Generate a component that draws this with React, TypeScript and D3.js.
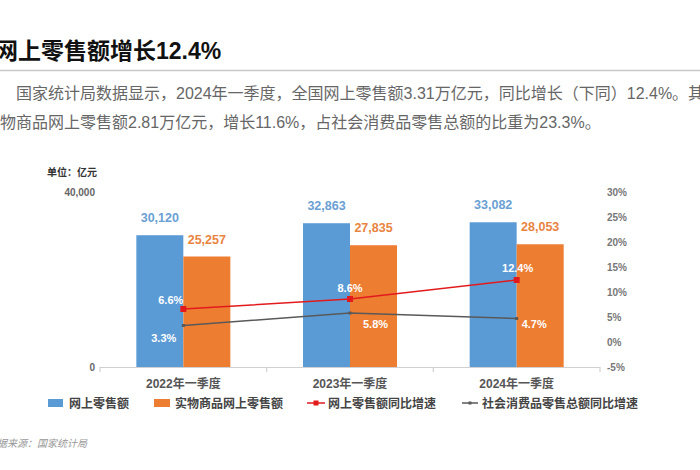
import React from "react";
import * as d3 from "d3";

const categories = ["2022年一季度", "2023年一季度", "2024年一季度"];
const onlineRetail = [30120, 32863, 33082];
const physicalOnline = [25257, 27835, 28053];
const onlineGrowth = [6.6, 8.6, 12.4];
const socialGrowth = [3.3, 5.8, 4.7];
const leftTicks = [0, 40000];
const rightTicks = [-5, 0, 5, 10, 15, 20, 25, 30];
const seriesNames = ["网上零售额", "实物商品网上零售额", "网上零售额同比增速", "社会消费品零售总额同比增速"];

const title = "网上零售额增长12.4%";
const para1 = "国家统计局数据显示，2024年一季度，全国网上零售额3.31万亿元，同比增长（下同）12.4%。其中";
const para2 = "实物商品网上零售额2.81万亿元，增长11.6%，占社会消费品零售总额的比重为23.3%。";
const source = "数据来源：国家统计局";
const unit = "单位：亿元";

const BLUE = "#5B9BD5";
const ORANGE = "#ED7D31";
const RED = "#E31A1C";
const GRAY = "#595959";
const FONT = "'Liberation Sans', Arial, 'Noto Sans CJK SC', sans-serif";

export default function App() {
  const x0 = d3.scaleBand<string>().domain(categories).range([100, 600]).padding(0);
  const x1 = d3
    .scaleBand<string>()
    .domain(["a", "b"])
    .range([0, x0.bandwidth()])
    .paddingInner(0)
    .paddingOuter(0.773);
  const yL = d3.scaleLinear().domain([0, 40000]).range([367, 192]);
  const yR = d3.scaleLinear().domain([-5, 30]).range([367, 192]);
  const fmt = d3.format(",");
  const cx = (c: string) => (x0(c) as number) + x0.bandwidth() / 2;

  const lineGen = d3
    .line<number>()
    .x((_, i) => cx(categories[i]))
    .y((d) => yR(d));

  // label placement for line value labels
  const onlineLbl = [
    { dx: 0, dy: -5, anchor: "end" },
    { dx: 0, dy: -7, anchor: "middle" },
    { dx: 1, dy: -8, anchor: "middle" },
  ];
  const socialLbl = [
    { dx: -7, dy: 16, anchor: "end" },
    { dx: 13, dy: 15, anchor: "start" },
    { dx: 5, dy: 9, anchor: "start" },
  ];

  const ticksX = [...categories.map((c) => x0(c) as number), 600];

  return (
    <svg
      width={700}
      height={470}
      style={{ position: "absolute", left: 0, top: 0, background: "#fff" }}
      fontFamily={FONT}
    >
      <rect width={700} height={470} fill="#fff" />
      {/* header */}
      <text x={-5} y={59} fontSize={23} fontWeight="bold" fill="#111">
        {title}
      </text>
      <line x1={0} x2={700} y1={70.5} y2={70.5} stroke="#c8c8c8" strokeWidth={1.5} />
      <text x={16} y={99} fontSize={16} fill="#666">
        {para1}
      </text>
      <text x={-16} y={128} fontSize={16} fill="#666">
        {para2}
      </text>

      {/* unit */}
      <text x={47} y={176} fontSize={10} fontWeight="bold" fill="#333">
        {unit}
      </text>

      {/* left axis labels */}
      {leftTicks.map((t) => (
        <text key={t} x={95} y={yL(t) + 4} fontSize={10} fontWeight="bold" fill="#666" textAnchor="end">
          {fmt(t)}
        </text>
      ))}
      {/* right axis labels */}
      {rightTicks.map((t) => (
        <text key={t} x={607} y={yR(t) + 4} fontSize={10} fontWeight="bold" fill="#777">
          {t + "%"}
        </text>
      ))}

      {/* bars */}
      {categories.map((c, i) => {
        const bx = x0(c) as number;
        const xa = bx + (x1("a") as number);
        const xb = bx + (x1("b") as number);
        const w = x1.bandwidth();
        return (
          <g key={c}>
            <rect x={xa} y={yL(onlineRetail[i])} width={w} height={yL(0) - yL(onlineRetail[i])} fill={BLUE} />
            <rect x={xb} y={yL(physicalOnline[i])} width={w} height={yL(0) - yL(physicalOnline[i])} fill={ORANGE} />
            <text x={xa + w / 2} y={yL(onlineRetail[i]) - 13} fontSize={12.5} fontWeight="bold" fill="#6A9FD4" textAnchor="middle">
              {fmt(onlineRetail[i])}
            </text>
            <text x={xb + w / 2} y={yL(physicalOnline[i]) - 13} fontSize={12.5} fontWeight="bold" fill="#E9843F" textAnchor="middle">
              {fmt(physicalOnline[i])}
            </text>
          </g>
        );
      })}

      {/* x axis */}
      <line x1={100} x2={600} y1={367.5} y2={367.5} stroke="#d0d0d0" strokeWidth={1.2} />
      {ticksX.map((t, i) => (
        <line key={i} x1={t} x2={t} y1={367} y2={372} stroke="#d0d0d0" strokeWidth={1.2} />
      ))}
      {categories.map((c) => (
        <text key={c} x={cx(c)} y={388} fontSize={12} fontWeight="bold" fill="#555" textAnchor="middle">
          {c}
        </text>
      ))}

      {/* lines */}
      <path d={lineGen(socialGrowth) as string} fill="none" stroke={GRAY} strokeWidth={1.5} />
      {socialGrowth.map((v, i) => (
        <rect key={i} x={cx(categories[i]) - 1.5} y={yR(v) - 1.5} width={3} height={3} fill={GRAY} />
      ))}
      <path d={lineGen(onlineGrowth) as string} fill="none" stroke={RED} strokeWidth={1.5} />
      {onlineGrowth.map((v, i) => (
        <rect key={i} x={cx(categories[i]) - 3} y={yR(v) - 3} width={6} height={6} fill={RED} />
      ))}
      {onlineGrowth.map((v, i) => (
        <text
          key={i}
          x={cx(categories[i]) + onlineLbl[i].dx}
          y={yR(v) + onlineLbl[i].dy}
          fontSize={11}
          fontWeight="bold"
          fill="#fff"
          textAnchor={onlineLbl[i].anchor as any}
        >
          {v.toFixed(1) + "%"}
        </text>
      ))}
      {socialGrowth.map((v, i) => (
        <text
          key={i}
          x={cx(categories[i]) + socialLbl[i].dx}
          y={yR(v) + socialLbl[i].dy}
          fontSize={11}
          fontWeight="bold"
          fill="#fff"
          textAnchor={socialLbl[i].anchor as any}
        >
          {v.toFixed(1) + "%"}
        </text>
      ))}

      {/* legend */}
      <g fontSize={12} fontWeight="bold" fill="#444">
        <rect x={48} y={399} width={15} height={8} fill={BLUE} />
        <text x={69} y={407.5}>{seriesNames[0]}</text>
        <rect x={154} y={399} width={16} height={8} fill={ORANGE} />
        <text x={175} y={407.5}>{seriesNames[1]}</text>
        <line x1={307} x2={325} y1={403} y2={403} stroke={RED} strokeWidth={1.5} />
        <rect x={313.5} y={400.5} width={5} height={5} fill={RED} />
        <text x={328} y={407.5}>{seriesNames[2]}</text>
        <line x1={462} x2={478} y1={403} y2={403} stroke={GRAY} strokeWidth={1.5} />
        <rect x={468.5} y={401.5} width={3} height={3} fill={GRAY} />
        <text x={482} y={407.5}>{seriesNames[3]}</text>
      </g>

      {/* source */}
      <text x={-13} y={447} fontSize={10} fontStyle="italic" fill="#999">
        {source}
      </text>
    </svg>
  );
}
